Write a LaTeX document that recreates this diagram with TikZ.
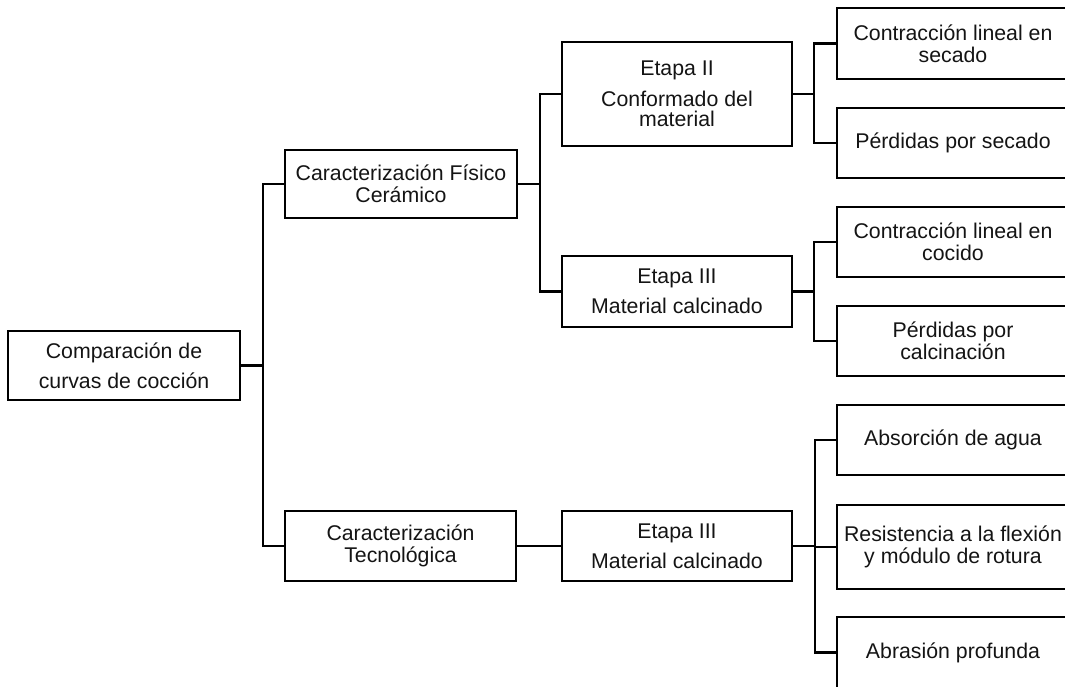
\documentclass[tikz,border=0pt]{standalone}
\usepackage{fontspec}
\setmainfont{Liberation Sans}
\begin{document}
\begin{tikzpicture}[x=1pt,y=-1pt,
  box/.style={draw=black, line width=2.3pt, inner sep=0pt, align=center,
    font=\fontsize{21.3pt}{22pt}\selectfont, text=black!92},
  conn/.style={draw=black, line width=2.3pt, line cap=rect}]
\useasboundingbox (0,0) rectangle (1065,687);
\clip (0,0) rectangle (1065,687);
% level 0
\node[box, minimum width=232pt, minimum height=69pt] (root) at (124,365.5) {Comparación de\\[8pt]curvas de cocción};
% level 1
\node[box, minimum width=232pt, minimum height=68pt] (cfc) at (401,184) {Caracterización Físico\\Cerámico};
\node[box, minimum width=231pt, minimum height=70pt] (ct) at (400.5,546) {Caracterización\\Tecnológica};
% level 2
\node[box, minimum width=230pt, minimum height=104pt] (e2) at (677,94) {Etapa II\\[9pt]Conformado del\\[-2pt]material};
\node[box, minimum width=230pt, minimum height=71pt] (e3a) at (677,291.5) {Etapa III\\[8pt]Material calcinado};
\node[box, minimum width=230pt, minimum height=70pt] (e3b) at (677,546) {Etapa III\\[8pt]Material calcinado};
% level 3
\node[box, minimum width=232pt, minimum height=71pt] (l1) at (953,43.5) {Contracción lineal en\\secado};
\node[box, minimum width=232pt, minimum height=70pt] (l2) at (953,143) {Pérdidas por secado};
\node[box, minimum width=232pt, minimum height=70pt] (l3) at (953,242) {Contracción lineal en\\cocido};
\node[box, minimum width=232pt, minimum height=70pt] (l4) at (953,341) {Pérdidas por\\calcinación};
\node[box, minimum width=232pt, minimum height=70pt] (l5) at (953,440) {Absorción de agua};
\node[box, minimum width=232pt, minimum height=84pt] (l6) at (953,547) {Resistencia a la flexión\\y módulo de rotura};
\node[box, minimum width=232pt, minimum height=71pt] (l7) at (953,652.5) {Abrasión profunda};
% bus coordinates
\coordinate (j1) at (263,0);
\coordinate (j2) at (540,0);
\coordinate (j3) at (814,0);
\coordinate (j4) at (814,0);
\coordinate (j5) at (815,0);
% connectors
\draw[conn] (root.east) -- (root.east -| j1);
\draw[conn] (cfc.west) -| (j1 |- ct.west) -- (ct.west);
\draw[conn] (cfc.east) -- (cfc.east -| j2);
\draw[conn] (e2.west) -| (j2 |- e3a.west) -- (e3a.west);
\draw[conn] (ct.east) -- (e3b.west);
\draw[conn] (e2.east) -- (e2.east -| j3);
\draw[conn] (l1.west) -| (j3 |- l2.west) -- (l2.west);
\draw[conn] (e3a.east) -- (e3a.east -| j4);
\draw[conn] (l3.west) -| (j4 |- l4.west) -- (l4.west);
\draw[conn] (e3b.east) -- (e3b.east -| j5);
\draw[conn] (l5.west) -| (j5 |- l7.west) -- (l7.west);
\draw[conn] (l6.west) -- (l6.west -| j5);
\end{tikzpicture}
\end{document}
